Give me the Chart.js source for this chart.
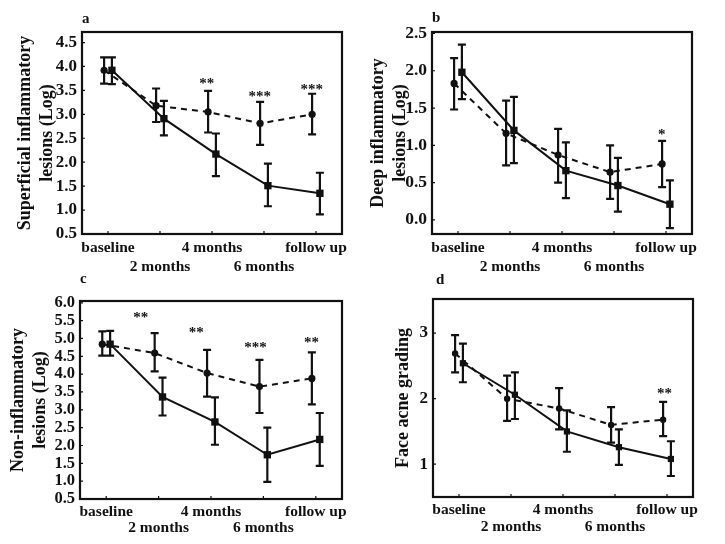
<!DOCTYPE html>
<html><head><meta charset="utf-8">
<script src="https://cdn.jsdelivr.net/npm/chart.js@4.4.1/dist/chart.umd.min.js"></script>
<style>
html,body{margin:0;padding:0;background:#fff;}
#wrap{position:relative;width:725px;height:544px;overflow:hidden;background:#fff;}
.panel{position:absolute;}
.lbl{position:absolute;font:bold 15px "Liberation Serif","Times New Roman",serif;color:#111;line-height:16px;}
</style></head><body>
<div id="wrap">
  <div class="panel" style="left:0;top:0;width:362px;height:280px"><canvas id="ca"></canvas></div>
  <div class="panel" style="left:362px;top:0;width:363px;height:280px"><canvas id="cb"></canvas></div>
  <div class="panel" style="left:0;top:280px;width:362px;height:264px"><canvas id="cc"></canvas></div>
  <div class="panel" style="left:362px;top:280px;width:363px;height:264px"><canvas id="cd"></canvas></div>
  <div class="lbl" style="left:82px;top:10px">a</div>
  <div class="lbl" style="left:432px;top:9px">b</div>
  <div class="lbl" style="left:80px;top:270px">c</div>
  <div class="lbl" style="left:436px;top:271px">d</div>
</div>
<script>
// ---- categories ----
const timepoints = ['baseline', '2 months', '4 months', '6 months', 'follow up'];

// ---- panel a: Superficial inflammatory lesions (Log) ----
const aDashed     = [3.92, 3.18, 3.05, 2.81, 3.00];
const aDashedLow  = [3.64, 2.84, 2.62, 2.36, 2.58];
const aDashedHigh = [4.19, 3.54, 3.49, 3.26, 3.43];
const aSolid      = [3.92, 2.91, 2.17, 1.51, 1.35];
const aSolidLow   = [3.63, 2.56, 1.71, 1.08, 0.91];
const aSolidHigh  = [4.19, 3.28, 2.60, 1.97, 1.78];
const aYTicks     = [0.5, 1.0, 1.5, 2.0, 2.5, 3.0, 3.5, 4.0, 4.5];
const aSigText    = ['**', '***', '***'];
const aSigX       = [1.9, 2.92, 3.92];
const aSigY       = [3.69, 3.43, 3.57];

// ---- panel b: Deep inflammatory lesions (Log) ----
const bDashed     = [1.83, 1.16, 0.87, 0.64, 0.75];
const bDashedLow  = [1.48, 0.73, 0.50, 0.28, 0.44];
const bDashedHigh = [2.17, 1.60, 1.22, 1.00, 1.06];
const bSolid      = [1.98, 1.20, 0.66, 0.46, 0.21];
const bSolidLow   = [1.62, 0.76, 0.29, 0.11, -0.11];
const bSolidHigh  = [2.35, 1.65, 1.04, 0.83, 0.53];
const bYTicks     = [0.0, 0.5, 1.0, 1.5, 2.0, 2.5];
const bSigText    = ['*'];
const bSigX       = [3.92];
const bSigY       = [1.18];

// ---- panel c: Non-inflammatory lesions (Log) ----
const cDashed     = [4.84, 4.59, 4.03, 3.65, 3.88];
const cDashedLow  = [4.52, 4.08, 3.37, 2.91, 3.15];
const cDashedHigh = [5.20, 5.15, 4.68, 4.40, 4.61];
const cSolid      = [4.84, 3.36, 2.66, 1.74, 2.17];
const cSolidLow   = [4.52, 2.84, 2.02, 0.98, 1.43];
const cSolidHigh  = [5.21, 3.90, 3.35, 2.50, 2.91];
const cYTicks     = [0.5, 1.0, 1.5, 2.0, 2.5, 3.0, 3.5, 4.0, 4.5, 5.0, 5.5, 6.0];
const cSigText    = ['**', '**', '***', '**'];
const cSigX       = [0.66, 1.72, 2.85, 3.92];
const cSigY       = [5.66, 5.22, 4.82, 4.96];

// ---- panel d: Face acne grading ----
const dDashed     = [2.69, 2.00, 1.85, 1.60, 1.68];
const dDashedLow  = [2.40, 1.66, 1.53, 1.33, 1.43];
const dDashedHigh = [2.97, 2.35, 2.16, 1.87, 1.95];
const dSolid      = [2.54, 2.06, 1.50, 1.26, 1.08];
const dSolidLow   = [2.25, 1.69, 1.19, 0.99, 0.82];
const dSolidHigh  = [2.84, 2.40, 1.82, 1.53, 1.35];
const dYTicks     = [1, 2, 3];
const dSigText    = ['**'];
const dSigX       = [3.95];
const dSigY       = [2.11];

const INK = '#111';
const SERIF = '"Liberation Serif","Times New Roman",serif';
const DASH_OFFSET = -0.075, SOLID_OFFSET = 0.075;

const panelPlugin = {
  id: 'panelPlugin',
  beforeDatasetsDraw(chart) {
    const ctx = chart.ctx, xs = chart.scales.x, ys = chart.scales.y;
    ctx.save();
    ctx.strokeStyle = INK; ctx.lineWidth = 2.2; ctx.setLineDash([]);
    chart.data.datasets.forEach(ds => {
      ds.data.forEach((p, i) => {
        const x = xs.getPixelForValue(p.x);
        const yl = ys.getPixelForValue(ds.errLow[i]);
        const yh = ys.getPixelForValue(ds.errHigh[i]);
        ctx.beginPath();
        ctx.moveTo(x, yl); ctx.lineTo(x, yh);
        ctx.moveTo(x - 4, yl); ctx.lineTo(x + 4, yl);
        ctx.moveTo(x - 4, yh); ctx.lineTo(x + 4, yh);
        ctx.stroke();
      });
    });
    ctx.restore();
  },
  afterDraw(chart) {
    const ctx = chart.ctx, a = chart.chartArea, xs = chart.scales.x, ys = chart.scales.y;
    const o = chart.options.plugins.panelPlugin;
    ctx.save();
    ctx.strokeStyle = INK; ctx.lineWidth = 2.2; ctx.setLineDash([]);
    ctx.strokeRect(a.left, a.top, a.right - a.left, a.bottom - a.top);
    ctx.lineWidth = 1.2;
    ctx.beginPath();
    xs.ticks.forEach(t => {
      const x = xs.getPixelForValue(t.value);
      ctx.moveTo(x, a.bottom); ctx.lineTo(x, a.bottom - 3);
    });
    ys.ticks.forEach(t => {
      const y = ys.getPixelForValue(t.value);
      ctx.moveTo(a.left, y); ctx.lineTo(a.left + 3, y);
    });
    ctx.stroke();
    ctx.fillStyle = INK;
    ctx.font = 'bold 15px ' + SERIF;
    ctx.textAlign = 'center'; ctx.textBaseline = 'middle';
    o.sigText.forEach((s, i) => {
      ctx.fillText(s, xs.getPixelForValue(o.sigX[i]), ys.getPixelForValue(o.sigY[i]) + 3);
    });
    ctx.restore();
  }
};

function makePanel(id, c) {
  const datasets = [
    { data: c.dashed.map((v, i) => ({ x: i + DASH_OFFSET, y: v })), errLow: c.dashedLow, errHigh: c.dashedHigh,
      borderColor: INK, borderWidth: 2, borderDash: [6, 5], pointStyle: 'circle', pointRadius: c.circleR,
      pointBackgroundColor: INK, pointBorderWidth: 0, tension: 0, fill: false },
    { data: c.solid.map((v, i) => ({ x: i + SOLID_OFFSET, y: v })), errLow: c.solidLow, errHigh: c.solidHigh,
      borderColor: INK, borderWidth: 2, pointStyle: 'rect', pointRadius: c.rectR,
      pointBackgroundColor: INK, pointBorderWidth: 0, tension: 0, fill: false }
  ];
  return new Chart(document.getElementById(id), {
    type: 'line',
    data: { datasets },
    options: {
      responsive: true, maintainAspectRatio: false, animation: false,
      layout: { padding: { top: c.padTop, right: c.padRight, left: 0, bottom: 0 } },
      plugins: { legend: { display: false }, tooltip: { enabled: false },
        panelPlugin: { sigText: c.sigText, sigX: c.sigX, sigY: c.sigY } },
      scales: {
        x: {
          type: 'linear', min: -0.5, max: 4.5,
          afterBuildTicks: s => { s.ticks = timepoints.map((_, i) => ({ value: i })); },
          afterFit: s => { s.height = c.xH; },
          grid: { display: false, drawTicks: false }, border: { display: false },
          ticks: { padding: c.xPad, maxRotation: 0, minRotation: 0, autoSkip: false, color: INK,
            font: { family: SERIF, weight: 'bold', size: 15.5, lineHeight: c.xLine },
            callback: v => { const i = Math.round(v); return i % 2 ? ['', timepoints[i]] : timepoints[i]; } }
        },
        y: {
          type: 'linear', min: c.yMin, max: c.yMax,
          afterBuildTicks: s => { s.ticks = c.yTicks.map(v => ({ value: v })); },
          afterFit: s => { s.width = c.yW; },
          grid: { display: false, drawTicks: false }, border: { display: false },
          ticks: { padding: 5, color: INK, autoSkip: false,
            font: { family: SERIF, weight: 'bold', size: c.yFont },
            callback: v => c.fmt(v) },
          title: { display: true, text: c.title, color: INK,
            font: { family: SERIF, weight: 'bold', size: 18, lineHeight: c.titleLine },
            padding: { top: c.titlePad, bottom: 0 } }
        }
      }
    },
    plugins: [panelPlugin]
  });
}

const f1 = v => v.toFixed(1);
const f0 = v => String(Math.round(v));

makePanel('ca', { dashed: aDashed, dashedLow: aDashedLow, dashedHigh: aDashedHigh,
  solid: aSolid, solidLow: aSolidLow, solidHigh: aSolidHigh, yTicks: aYTicks,
  sigText: aSigText, sigX: aSigX, sigY: aSigY, yMin: 0.5, yMax: 4.72, fmt: f1,
  title: ['Superficial inflammatory', 'lesions (Log)'], titleLine: 1.24, titlePad: 14,
  padTop: 32, padRight: 20, yW: 82, xH: 46, xPad: 4.5, xLine: 1.23, yFont: 17, circleR: 3.6, rectR: 5.2 });

makePanel('cb', { dashed: bDashed, dashedLow: bDashedLow, dashedHigh: bDashedHigh,
  solid: bSolid, solidLow: bSolidLow, solidHigh: bSolidHigh, yTicks: bYTicks,
  sigText: bSigText, sigX: bSigX, sigY: bSigY, yMin: -0.19, yMax: 2.52, fmt: f1,
  title: ['Deep inflammatory', 'lesions (Log)'], titleLine: 1.22, titlePad: 5,
  padTop: 32, padRight: 33, yW: 70, xH: 46, xPad: 4.5, xLine: 1.23, yFont: 17.5, circleR: 3.6, rectR: 5.2 });

makePanel('cc', { dashed: cDashed, dashedLow: cDashedLow, dashedHigh: cDashedHigh,
  solid: cSolid, solidLow: cSolidLow, solidHigh: cSolidHigh, yTicks: cYTicks,
  sigText: cSigText, sigX: cSigX, sigY: cSigY, yMin: 0.5, yMax: 6.05, fmt: f1,
  title: ['Non-inflammatory', 'lesions (Log)'], titleLine: 1.2, titlePad: 8,
  padTop: 21, padRight: 20, yW: 80, xH: 45, xPad: 5, xLine: 1.05, yFont: 16.5, circleR: 3.6, rectR: 5.2 });

makePanel('cd', { dashed: dDashed, dashedLow: dDashedLow, dashedHigh: dDashedHigh,
  solid: dSolid, solidLow: dSolidLow, solidHigh: dSolidHigh, yTicks: dYTicks,
  sigText: dSigText, sigX: dSigX, sigY: dSigY, yMin: 0.5, yMax: 3.52, fmt: f0,
  title: 'Face acne grading', titleLine: 1.22, titlePad: 30,
  padTop: 19, padRight: 32, yW: 71, xH: 47, xPad: 4.5, xLine: 1.1, yFont: 17, circleR: 3.2, rectR: 4.4 });
</script>
</body></html>
